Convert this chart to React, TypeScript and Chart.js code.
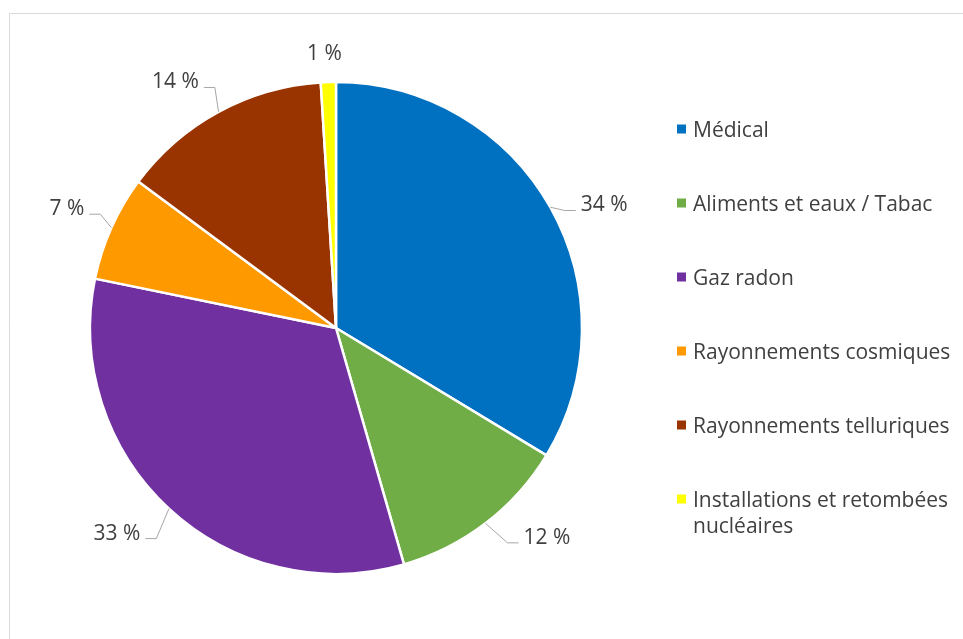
import React, { useEffect, useRef } from 'react';
import { Chart, registerables } from 'chart.js';

Chart.register(...registerables);

const categories = [
  'Médical',
  'Aliments et eaux / Tabac',
  'Gaz radon',
  'Rayonnements cosmiques',
  'Rayonnements telluriques',
  'Installations et retombées nucléaires',
];
const values = [34, 12, 33, 7, 14, 1];
const colors = ['#0070C0', '#70AD47', '#7030A0', '#FF9900', '#993300', '#FFFF00'];

// label placement relative to the slice edge at its mid-angle: [side, dx, dy]
const labelOffsets: [string, number, number][] = [
  ['r', 30.5, -3.7],
  ['r', 38, 12.5],
  ['l', -28.6, 23],
  ['l', -27, -20.5],
  ['l', -19.7, -31.4],
  ['c', -4, -30],
];

const FONT = '"Open Sans", sans-serif';
const FONT_SIZE = 21;
const TEXT_SHIFT = 2;
const TEXT_COLOR = '#404040';

const framePlugin = {
  id: 'frame',
  beforeDraw(chart: any) {
    const ctx = chart.ctx;
    ctx.save();
    ctx.fillStyle = '#ffffff';
    ctx.fillRect(0, 0, chart.width, chart.height);
    ctx.strokeStyle = '#D9D9D9';
    ctx.lineWidth = 1;
    ctx.beginPath();
    ctx.moveTo(9.5, chart.height);
    ctx.lineTo(9.5, 13.5);
    ctx.lineTo(chart.width, 13.5);
    ctx.stroke();
    ctx.restore();
  },
};

const labelPlugin = {
  id: 'sliceLabels',
  afterDatasetsDraw(chart: any) {
    const ctx = chart.ctx;
    const meta = chart.getDatasetMeta(0);
    ctx.save();
    ctx.font = `${FONT_SIZE}px ${FONT}`;
    ctx.textBaseline = 'middle';
    meta.data.forEach((arc: any, i: number) => {
      const p = arc.getProps(['x', 'y', 'startAngle', 'endAngle', 'outerRadius'], true);
      const mid = (p.startAngle + p.endAngle) / 2;
      const ax = p.x + Math.cos(mid) * p.outerRadius;
      const ay = p.y + Math.sin(mid) * p.outerRadius;
      const [side, dx, dy] = labelOffsets[i];
      const text = `${values[i]} %`;
      const w = ctx.measureText(text).width;
      const cy = ay + dy;
      const ly = cy + 7;
      let left: number;
      ctx.strokeStyle = '#A6A6A6';
      ctx.lineWidth = 1;
      if (side === 'r') {
        left = ax + dx;
        ctx.beginPath();
        ctx.moveTo(ax, ay);
        ctx.lineTo(left - 16, ly);
        ctx.lineTo(left - 5, ly);
        ctx.stroke();
      } else if (side === 'l') {
        const right = ax + dx;
        left = right - w;
        ctx.beginPath();
        ctx.moveTo(ax, ay);
        ctx.lineTo(right + 16, ly);
        ctx.lineTo(right + 5, ly);
        ctx.stroke();
      } else {
        left = ax + dx - w / 2;
      }
      ctx.fillStyle = TEXT_COLOR;
      ctx.textAlign = 'left';
      ctx.fillText(text, left, cy + TEXT_SHIFT);
    });
    ctx.restore();
  },
};

const legendPlugin = {
  id: 'customLegend',
  afterDraw(chart: any) {
    const ctx = chart.ctx;
    const startX = 677;
    const startY = 129;
    const step = 74;
    const lineH = 26;
    const maxW = 262;
    ctx.save();
    ctx.font = `${FONT_SIZE}px ${FONT}`;
    ctx.textBaseline = 'middle';
    ctx.textAlign = 'left';
    categories.forEach((cat, i) => {
      const y = startY + step * i;
      ctx.fillStyle = colors[i];
      ctx.fillRect(startX, y - 4.5, 9, 9);
      const words = cat.split(' ');
      const lines: string[] = [];
      let cur = '';
      words.forEach((wd) => {
        const test = cur ? cur + ' ' + wd : wd;
        if (ctx.measureText(test).width > maxW && cur) {
          lines.push(cur);
          cur = wd;
        } else cur = test;
      });
      if (cur) lines.push(cur);
      ctx.fillStyle = TEXT_COLOR;
      lines.forEach((ln, j) => ctx.fillText(ln, startX + 16, y + j * lineH + TEXT_SHIFT));
    });
    ctx.restore();
  },
};

export default function App() {
  const ref = useRef<HTMLCanvasElement | null>(null);
  useEffect(() => {
    if (!ref.current) return;
    const chart = new Chart(ref.current, {
      type: 'pie',
      data: {
        labels: categories,
        datasets: [
          {
            data: values,
            backgroundColor: colors,
            borderColor: '#ffffff',
            borderWidth: 2.5,
          },
        ],
      },
      options: {
        responsive: false,
        animation: false,
        devicePixelRatio: 1,
        radius: 246,
        layout: { padding: { left: 90, right: 381, top: 82, bottom: 65 } },
        plugins: {
          legend: { display: false },
          tooltip: { enabled: false },
        },
      } as any,
      plugins: [framePlugin, labelPlugin, legendPlugin],
    });
    return () => chart.destroy();
  }, []);
  return (
    <div style={{ position: 'absolute', left: 0, top: 0, width: 963, height: 639 }}>
      <canvas ref={ref} width={963} height={639} style={{ display: 'block' }} />
    </div>
  );
}
